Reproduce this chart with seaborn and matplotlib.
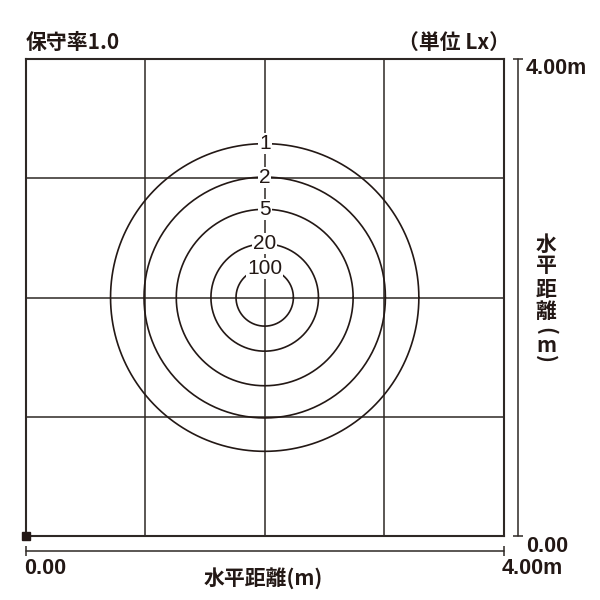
import numpy as np
import pandas as pd
import matplotlib
matplotlib.use("Agg")
import matplotlib.pyplot as plt
import seaborn as sns

# ---- data ----
levels = [1, 2, 5, 20, 100]              # isolux levels (Lx)
radii = [1.29, 1.01, 0.74, 0.45, 0.24]   # contour radius (m)
center_x, center_y = 2.0, 2.0            # lamp position (m)
grid_ticks = [0, 1, 2, 3, 4]
area_size = 4.0

sns.set_theme(style="white")
plt.rcParams["font.family"] = ["Noto Sans CJK JP", "DejaVu Sans"]

INK = "#231815"
GRID = "#2e2825"

fig = plt.figure(figsize=(6, 6), dpi=100)
ax = fig.add_axes([25.7 / 600, (600 - 536) / 600, 478 / 600, 477 / 600])
ax.set_xlim(0, area_size)
ax.set_ylim(0, area_size)
ax.set_xticks([])
ax.set_yticks([])
for s in ax.spines.values():
    s.set_color(GRID)
    s.set_linewidth(1.5)
    s.set_visible(True)

# grid lines
for t in grid_ticks[1:-1]:
    ax.axvline(t, color=GRID, lw=1.1, zorder=1)
    ax.axhline(t, color=GRID, lw=1.1, zorder=1)

# contour circles
theta = np.linspace(0, 2 * np.pi, 361)
rows = []
for lv, r in zip(levels, radii):
    for th in theta:
        rows.append({"level": str(lv), "x": center_x + r * np.cos(th), "y": center_y + r * np.sin(th)})
df = pd.DataFrame(rows)
sns.lineplot(data=df, x="x", y="y", hue="level", sort=False, estimator=None,
             palette={str(l): INK for l in levels}, legend=False, lw=1.2, ax=ax, zorder=2)
ax.set_xlabel("")
ax.set_ylabel("")
ax.set_xlim(0, area_size)
ax.set_ylim(0, area_size)

for lv, r in zip(levels, radii):
    ax.text(center_x, center_y + r, str(lv), ha="center", va="center", fontsize=15,
            family=["Liberation Sans"], color=INK, zorder=4,
            bbox=dict(facecolor="white", edgecolor="none", pad=0.8))

# origin marker
ax.plot([0], [0], marker="s", ms=6, color=INK, clip_on=False, zorder=6)

# dimension lines
ppu = 477 / 4.0
yb = -(551 - 536) / ppu
xr = area_size + (518 - 504) / ppu
ax.plot([0, area_size], [yb, yb], color=GRID, lw=1.1, clip_on=False)
ax.plot([0, area_size], [yb, yb], ls="none", marker="|", ms=7, mew=1.1, color=GRID, clip_on=False)
ax.plot([xr, xr], [0, area_size], color=GRID, lw=1.1, clip_on=False)
ax.plot([xr, xr], [0, area_size], ls="none", marker="_", ms=7, mew=1.1, color=GRID, clip_on=False)

def fx(px):
    return px / 600

def fy(py):
    return 1 - py / 600

num = dict(family=["Liberation Sans"], fontsize=15.5, color=INK, weight="bold")
jp = dict(fontsize=15, color=INK, weight="bold")

fig.text(fx(26), fy(42), "保守率1.0", ha="left", va="center", **jp)
fig.text(fx(510), fy(42), "（単位 Lx）", ha="right", va="center", **jp)
fig.text(fx(526), fy(69), "4.00m", ha="left", va="center", **num)
fig.text(fx(526), fy(546), "0.00", ha="left", va="center", **num)
fig.text(fx(502), fy(569), "4.00m", ha="left", va="center", **num)
fig.text(fx(24), fy(569), "0.00", ha="left", va="center", **num)
fig.text(fx(263), fy(578), "水平距離(m)", ha="center", va="center", **jp)

vchars = ["水", "平", "距", "離"]
vys = [244, 266, 289, 312]
for ch, yy in zip(vchars, vys):
    fig.text(fx(546), fy(yy), ch, ha="center", va="center", **jp)
fig.text(fx(546), fy(331), "(", ha="center", va="center", rotation=-90,
         rotation_mode="anchor", **jp)
fig.text(fx(546), fy(345), "m", ha="center", va="center", **jp)
fig.text(fx(546), fy(359), ")", ha="center", va="center", rotation=-90,
         rotation_mode="anchor", **jp)

fig.savefig("out.png", dpi=100, facecolor="white")
